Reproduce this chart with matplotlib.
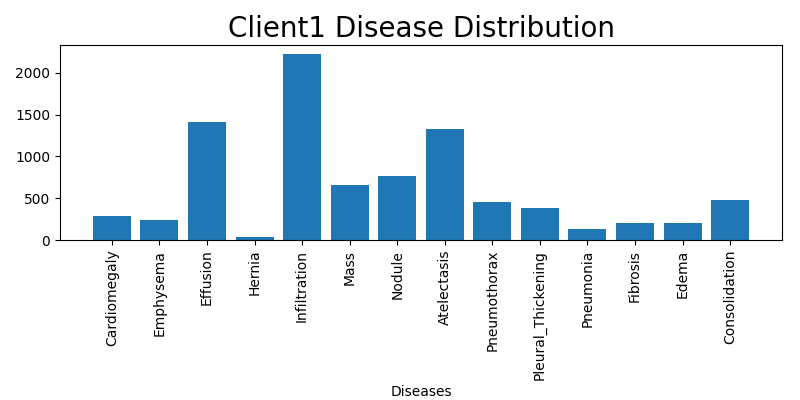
import matplotlib
matplotlib.use('Agg')
import matplotlib.pyplot as plt

diseases = ['Cardiomegaly', 'Emphysema', 'Effusion', 'Hernia', 'Infiltration', 'Mass',
            'Nodule', 'Atelectasis', 'Pneumothorax', 'Pleural_Thickening', 'Pneumonia',
            'Fibrosis', 'Edema', 'Consolidation']
counts = [288, 240, 1416, 36, 2220, 660, 768, 1332, 456, 384, 132, 204, 204, 480]

fig, ax = plt.subplots(figsize=(8, 4), dpi=100)
ax.bar(diseases, counts)
ax.set_title('Client1 Disease Distribution', fontsize=20)
ax.set_xlabel('Diseases')
plt.xticks(rotation=90)
plt.subplots_adjust(left=0.075, right=0.9775, top=0.8875, bottom=0.4)
plt.savefig('out.png')
